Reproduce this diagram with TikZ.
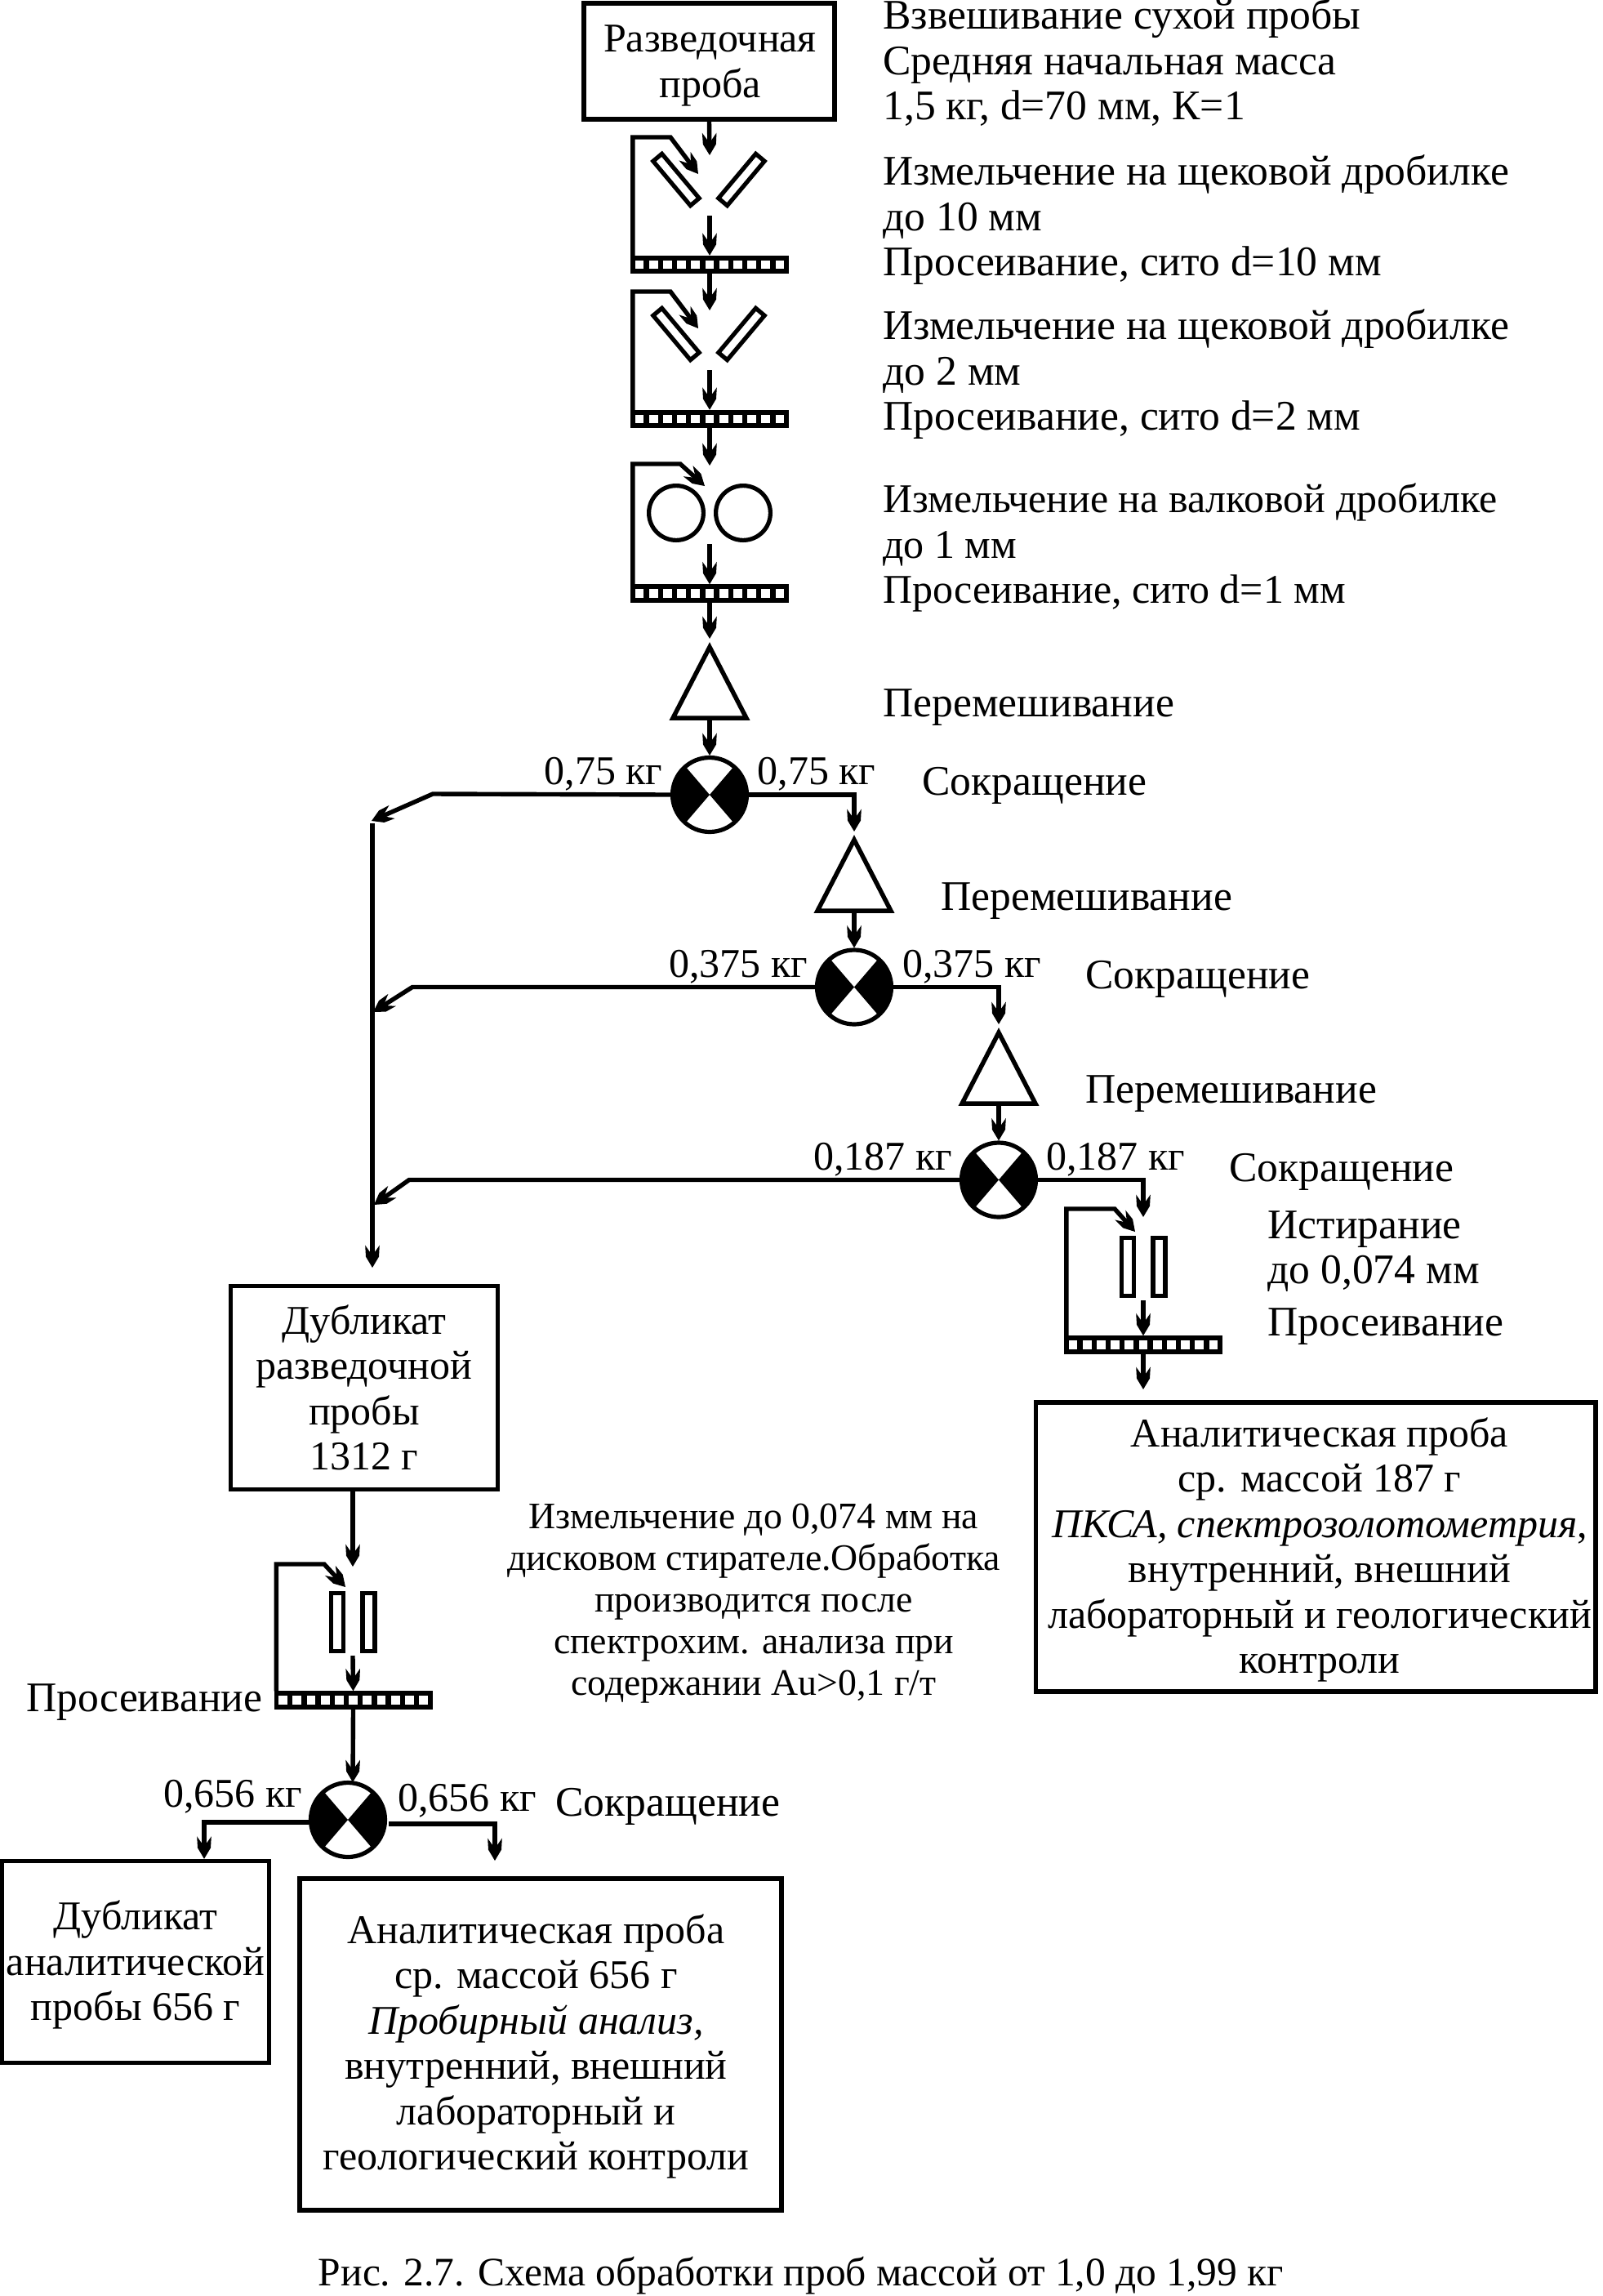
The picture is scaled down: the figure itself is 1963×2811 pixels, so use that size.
\documentclass[tikz,border=0pt]{standalone}
\usepackage{fontspec}
\setmainfont{Liberation Serif}
\usetikzlibrary{arrows.meta,shapes.geometric}

\pgfdeclarearrow{
  name=Barb,
  setup code={
    \pgfarrowssettipend{0pt}
    \pgfarrowssetlineend{-7pt}
    \pgfarrowssetvisualbackend{-7.5pt}
    \pgfarrowshullpoint{0pt}{0pt}
    \pgfarrowshullpoint{-13.7pt}{4.4pt}
    \pgfarrowshullpoint{-13.7pt}{-4.4pt}
  },
  drawing code={
    \pgfpathmoveto{\pgfpoint{0pt}{0pt}}
    \pgfpathlineto{\pgfpoint{-6.7pt}{4pt}}
    \pgfpathlineto{\pgfpoint{-13.7pt}{4.4pt}}
    \pgfpathlineto{\pgfpoint{-7.5pt}{0pt}}
    \pgfpathlineto{\pgfpoint{-13.7pt}{-4.4pt}}
    \pgfpathlineto{\pgfpoint{-6.7pt}{-4pt}}
    \pgfpathclose
    \pgfusepathqfill
  }
}

\begin{document}
\begin{tikzpicture}[x=0.5pt,y=-0.5pt]
\tikzstyle{connect}=[-{Barb}, line width=2.7pt, line join=miter]
\tikzstyle{main}=[font=\fontsize{25}{27.75}\selectfont, align=center, inner sep=0pt, yshift=-2.75pt]
\tikzstyle{side}=[main, font=\fontsize{25.8}{27.75}\selectfont, align=left, anchor=west]
\tikzstyle{note}=[main, font=\fontsize{22.9}{25.5}\selectfont]
\tikzstyle{box}=[rectangle, draw=black, line width=2.75pt, inner sep=0pt]
\tikzstyle{jaw}=[rectangle, draw=black, line width=2.6pt, minimum width=35.5pt, minimum height=7pt, inner sep=0pt]
\tikzstyle{plate}=[rectangle, draw=black, line width=2.6pt, minimum width=7.5pt, minimum height=35.5pt, inner sep=0pt]
\tikzstyle{roller}=[circle, draw=black, line width=2.6pt, minimum size=33.4pt, inner sep=0pt]
\tikzstyle{mixer}=[isosceles triangle, isosceles triangle stretches, shape border rotate=90, draw=black, line width=2.75pt, minimum width=45pt, minimum height=43.5pt, inner sep=0pt, anchor=apex]
\tikzstyle{sito}=[rectangle, fill=black, minimum width=97pt, minimum height=11.25pt, inner sep=0pt, outer sep=0pt,
  path picture={\foreach \k in {-5,...,5} \fill[white] ([xshift=\k*8.6pt-2.7pt,yshift=-2.7pt]path picture bounding box.center) rectangle ++(5.4pt,5.4pt);}]
\tikzstyle{splitter}=[circle, draw=black, fill=white, line width=2.6pt, minimum size=45.5pt, inner sep=0pt,
  path picture={\fill[black] (path picture bounding box.center) -- ++(-30pt,35pt) -- ++(0,-70pt) -- cycle;
                \fill[black] (path picture bounding box.center) -- ++(30pt,35pt) -- ++(0,-70pt) -- cycle;}]
  \useasboundingbox (0,0) rectangle (1963,2811);

  \node[box, minimum width=153.5pt, minimum height=71pt] (Razv) at (868.5,75) {};
  \node[box, minimum width=163.5pt, minimum height=124.5pt] (Dubl) at (446,1699) {};
  \node[box, minimum width=342.75pt, minimum height=177pt] (AnalR) at (1611,1894) {};
  \node[box, minimum width=163.5pt, minimum height=123.5pt] (DublA) at (166,2402) {};
  \node[box, minimum width=295pt, minimum height=203pt] (AnalL) at (662,2503) {};
  \node[main] (RazvT) at (869.5,75) {Разведочная\\проба};
  \node[main] (DublT) at (446,1693.5) {Дубликат\\разведочной\\пробы\\1312 г};
  \node[main] (AnalRT) at (1616,1892) {Аналитическая проба\\ср. массой 187 г\\\textit{ПКСА, спектрозолотометрия},\\внутренний, внешний\\лабораторный и геологический\\контроли};
  \node[main] (DublAT) at (166,2400) {Дубликат\\аналитической\\пробы 656 г};
  \node[main] (AnalLT) at (656.5,2500) {Аналитическая проба\\ср. массой 656 г\\\textit{Пробирный анализ,}\\внутренний, внешний\\лабораторный и\\геологический контроли};

  \node[jaw,rotate=-50] (J1) at (828,220) {};
  \node[jaw,rotate=50] (J2) at (908,220) {};
  \node[jaw,rotate=-50] (J3) at (828,409) {};
  \node[jaw,rotate=50] (J4) at (908,409) {};
  \node[roller] (R1) at (828,628) {};
  \node[roller] (R2) at (910,628) {};
  \node[plate] (P1) at (1381,1551) {};
  \node[plate] (P2) at (1419.5,1551) {};
  \node[plate] (P3) at (413,1986) {};
  \node[plate] (P4) at (451.5,1986) {};

  \node[sito] (S1) at (869,324) {};
  \node[sito] (S2) at (869,513) {};
  \node[sito] (S3) at (869,726.5) {};
  \node[sito] (S4) at (1400,1646.5) {};
  \node[sito] (S5) at (432.5,2081.5) {};

  \node[mixer] (T1) at (869,785) {};
  \node[mixer] (T2) at (1046,1021) {};
  \node[mixer] (T3) at (1223,1257) {};
  \node[splitter] (D1) at (869,973) {};
  \node[splitter] (D2) at (1046,1208.5) {};
  \node[splitter] (D3) at (1223,1444.5) {};
  \node[splitter] (D4) at (426,2228) {};

  \coordinate (c1) at (869,190);
  \coordinate (c2) at (869,264);
  \coordinate (c3) at (869,380);
  \coordinate (c4) at (869,453);
  \coordinate (c5) at (869,570);
  \coordinate (c6) at (869,666);
  \coordinate (c7) at (1400,1490);
  \coordinate (c8) at (1400,1592);
  \coordinate (c9) at (1400,1701);
  \coordinate (c10) at (432,1918);
  \coordinate (c11) at (432,2027);
  \coordinate (c12) at (432,2182);
  \coordinate (c13) at (476,2233);
  \coordinate (c14) at (606,2233);
  \coordinate (c15) at (606,2278);
  \coordinate (c16) at (250,2231);
  \coordinate (r1) at (821,168);
  \coordinate (t1) at (855,213);
  \coordinate (r2) at (821,357);
  \coordinate (t2) at (855,402);
  \coordinate (r3) at (833,568);
  \coordinate (t3) at (863,595);
  \coordinate (r4) at (1365,1480);
  \coordinate (t4) at (1390,1508);
  \coordinate (r5) at (397,1915);
  \coordinate (t5) at (423,1943);
  \coordinate (b1) at (530,972);
  \coordinate (e1) at (455,1005);
  \coordinate (b2) at (505,1208.5);
  \coordinate (e2) at (457,1239);
  \coordinate (b3) at (501,1444.5);
  \coordinate (e3) at (458,1475);
  \coordinate (k0) at (456,1008);
  \coordinate (k1) at (456,1552);

  \path (Razv.south) edge [connect] (c1);
  \path (c2) edge [connect] (S1.north);
  \path (S1.south) edge [connect] (c3);
  \path (c4) edge [connect] (S2.north);
  \path (S2.south) edge [connect] (c5);
  \path (c6) edge [connect] (S3.north);
  \path (S3.south) edge [connect, shorten >=1.5pt] (T1.apex);
  \path (T1.lower side) edge [connect] (D1.north);
  \path (T2.lower side) edge [connect] (D2.north);
  \path (T3.lower side) edge [connect] (D3.north);
  \path (c8) edge [connect] (S4.north);
  \path (S4.south) edge [connect] (c9);
  \path (Dubl.south -| c10) edge [connect] (c10);
  \path (c11) edge [connect] (S5.north);
  \path (S5.south) edge [connect] (c12);

  \draw[connect] ([xshift=1.4pt]S1.north west) |- (r1) -- (t1);
  \draw[connect] ([xshift=1.4pt]S2.north west) |- (r2) -- (t2);
  \draw[connect] ([xshift=1.4pt]S3.north west) |- (r3) -- (t3);
  \draw[connect] ([xshift=1.4pt]S4.north west) |- (r4) -- (t4);
  \draw[connect] ([xshift=1.4pt]S5.north west) |- (r5) -- (t5);

  \draw[connect, shorten >=1.5pt] (D1.east) -| (T2.apex);
  \draw[connect, shorten >=1.5pt] (D2.east) -| (T3.apex);
  \draw[connect] (D3.east) -| (c7);
  \draw[connect] (D1.west) -- (b1) -- (e1);
  \draw[connect] (D2.west) -- (b2) -- (e2);
  \draw[connect] (D3.west) -- (b3) -- (e3);
  \draw[connect] (k0) -- (k1);
  \draw[connect] (c13) -- (c14) -- (c15);
  \draw[connect] (D4.west |- c16) -- (c16) -- (DublA.north -| c16);

  \node[side] (L1) at (1081,71) {Взвешивание сухой пробы\\Средняя начальная масса\\1,5 кг, d=70 мм, К=1};
  \node[side] (L2) at (1081,264) {Измельчение на щековой дробилке\\до 10 мм\\Просеивание, сито d=10 мм};
  \node[side] (L3) at (1081,453) {Измельчение на щековой дробилке\\до 2 мм\\Просеивание, сито d=2 мм};
  \node[side, font=\fontsize{25}{27.75}\selectfont] (L4) at (1081,665) {Измельчение на валковой дробилке\\до 1 мм\\Просеивание, сито d=1 мм};
  \node[side] (L5) at (1081,861) {Перемешивание};
  \node[side] (L6) at (1129,956) {Сокращение};
  \node[side] (L7) at (1152,1098) {Перемешивание};
  \node[side] (L8) at (1329,1193) {Сокращение};
  \node[side] (L9) at (1329,1334) {Перемешивание};
  \node[side] (L10) at (1505,1429) {Сокращение};
  \node[side] (L11) at (1552,1559) {Истирание\\до 0,074 мм\\[4pt]Просеивание};
  \node[side] (L12) at (32,2079) {Просеивание};
  \node[side] (L13) at (680,2206) {Сокращение};

  \node[main] (M1) at (739,942) {0,75 кг};
  \node[main] (M2) at (1000,942) {0,75 кг};
  \node[main] (M3) at (904,1178) {0,375 кг};
  \node[main] (M4) at (1190,1178) {0,375 кг};
  \node[main] (M5) at (1081,1414) {0,187 кг};
  \node[main] (M6) at (1366,1414) {0,187 кг};
  \node[main] (M7) at (285,2194) {0,656 кг};
  \node[main] (M8) at (572,2199) {0,656 кг};

  \node[note] (Note) at (923,1958) {Измельчение до 0,074 мм на\\дисковом стирателе.Обработка\\производится после\\спектрохим. анализа при\\содержании Au>0,1 г/т};
  \node[main, font=\fontsize{24.75}{27.75}\selectfont] (Cap) at (981,2781) {Рис. 2.7. Схема обработки проб массой от 1,0 до 1,99 кг};
\end{tikzpicture}
\end{document}
